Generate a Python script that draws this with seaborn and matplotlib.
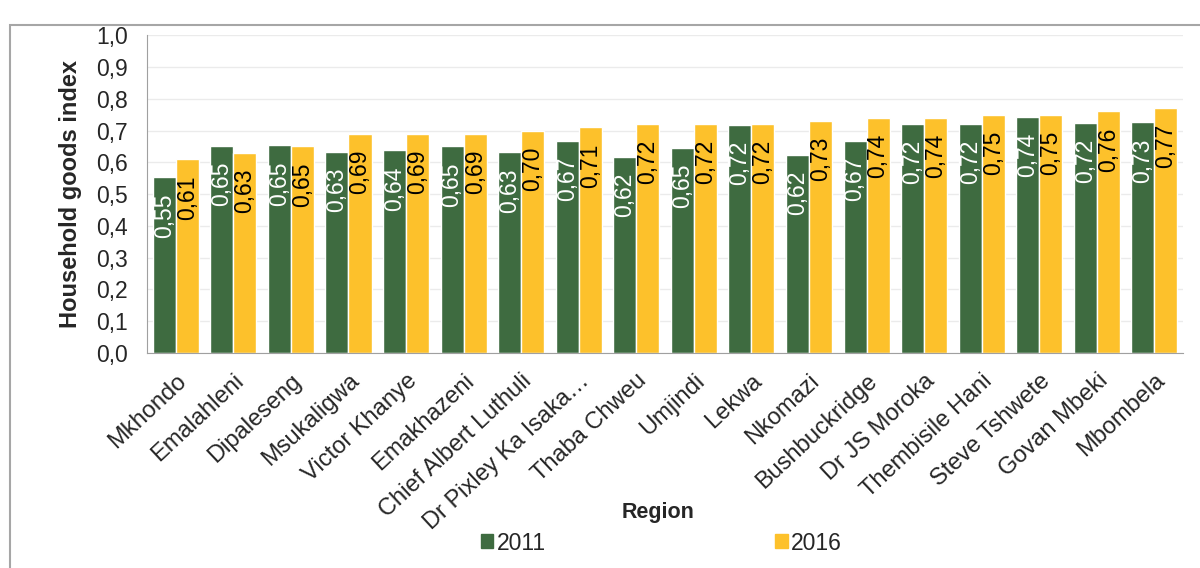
import matplotlib
matplotlib.use("Agg")
import matplotlib.pyplot as plt
import matplotlib.patches as mpatches
import matplotlib.transforms as mtransforms
import numpy as np
import pandas as pd
import seaborn as sns

# data
regions = ["Mkhondo", "Emalahleni", "Dipaleseng", "Msukaligwa", "Victor Khanye",
           "Emakhazeni", "Chief Albert Luthuli", "Dr Pixley Ka Isaka\u2026",
           "Thaba Chweu", "Umjindi", "Lekwa", "Nkomazi", "Bushbuckridge",
           "Dr JS Moroka", "Thembisile Hani", "Steve Tshwete", "Govan Mbeki",
           "Mbombela"]
vals_2011 = [0.553, 0.652, 0.654, 0.634, 0.638, 0.650, 0.632, 0.667, 0.617,
             0.645, 0.718, 0.624, 0.667, 0.721, 0.720, 0.742, 0.723, 0.726]
vals_2016 = [0.61, 0.63, 0.65, 0.69, 0.69, 0.69, 0.70, 0.71, 0.72,
             0.72, 0.72, 0.73, 0.74, 0.74, 0.75, 0.75, 0.76, 0.77]
years = ["2011", "2016"]
colors = ["#3E6B40", "#FDC12B"]

df = pd.DataFrame({"Region": regions * 2,
                   "value": vals_2011 + vals_2016,
                   "year": [years[0]] * len(regions) + [years[1]] * len(regions)})

sns.set_style("white")
plt.rcParams["font.family"] = ["Liberation Sans", "DejaVu Sans"]

fig = plt.figure(figsize=(12, 5.68), dpi=100)
ax = fig.add_axes([0.1225, 0.3785, 0.8635, 0.5595])

sns.barplot(data=df, x="Region", y="value", hue="year", palette=colors,
            width=0.8, saturation=1, ax=ax, legend=False)

# value labels inside bars, rotated
for i, cont in enumerate(ax.containers):
    txt_col = "white" if i == 0 else "black"
    for bar, v in zip(cont, [vals_2011, vals_2016][i]):
        ax.text(bar.get_x() + bar.get_width() / 2, v - 0.05,
                f"{v:.2f}".replace(".", ","), rotation=90, ha="center",
                va="top", color=txt_col, fontsize=16.5)

ax.set_ylim(0, 1.0)
yt = np.arange(0, 1.01, 0.1)
ax.set_yticks(yt)
ax.set_yticklabels([f"{t:.1f}".replace(".", ",") for t in yt], fontsize=16.5)
ax.set_xlim(-0.5, len(regions) - 0.5)
ax.set_xticks(np.arange(len(regions)))
ax.set_xticklabels(regions, rotation=43, ha="right", rotation_mode="anchor",
                   fontsize=17)
shift = mtransforms.ScaledTranslation(-5 / 100, 0, fig.dpi_scale_trans)
for lab in ax.get_xticklabels():
    lab.set_transform(lab.get_transform() + shift)
ax.set_xticks(np.arange(-0.5, len(regions), 1), minor=True)
ax.tick_params(axis="x", which="major", length=0, pad=12)
ax.tick_params(axis="x", which="minor", length=6, color="#A0A0A0", width=1)
ax.tick_params(axis="y", length=6, color="#A0A0A0", width=1, pad=8)
ax.grid(axis="y", color="#EBEBEB", lw=1)
ax.set_axisbelow(True)
for s in ["top", "right"]:
    ax.spines[s].set_visible(False)
for s in ["left", "bottom"]:
    ax.spines[s].set_color("#A0A0A0")

ax.set_ylabel("Household goods index", fontsize=17, fontweight="bold")
ax.yaxis.set_label_coords(-0.0627, 0.5)
ax.set_xlabel("Region", fontsize=15.5, fontweight="bold")
ax.xaxis.set_label_coords(0.493, -0.47)

handles = [mpatches.Patch(color=c, label=y) for c, y in zip(colors, years)]
fig.legend(handles=handles, loc="center", bbox_to_anchor=(0.551, 0.044), ncol=2,
           frameon=False, fontsize=16.5, handlelength=0.55, handleheight=0.55,
           handletextpad=0.15, columnspacing=10)

# outer frame of the chart area
fig.patches.append(mpatches.Rectangle((10 / 1200, -0.1), 1.2, 1.1 - 25 / 568,
                                      transform=fig.transFigure, fill=False,
                                      edgecolor="#A6A6A6", lw=1.5))

fig.savefig("out.png", dpi=100)
